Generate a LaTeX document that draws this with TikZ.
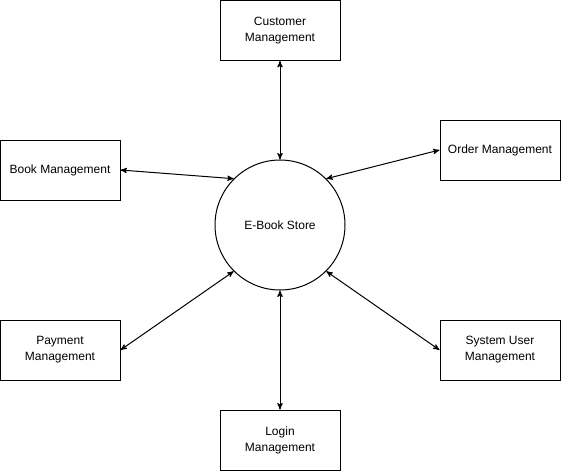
\documentclass[tikz,border=0pt]{standalone}
\usepackage{fontspec}
\setmainfont{Liberation Sans}
\usepackage{tikz}
\usetikzlibrary{positioning, arrows}
\tikzset{node distance=165pt, % Centre distance between the store and the side boxes
every node/.style={font=\fontsize{9pt}{12pt}\selectfont, align=center},
store/.style={ % The central process
circle, draw, line width=0.75pt, minimum size=97.5pt, inner sep=0pt},
module/.style={ % Each management box
rectangle, draw, line width=0.75pt, minimum width=90pt, minimum height=45pt, inner sep=2pt},
every edge/.style={ % Sets the properties for each flow
draw,<->,>=stealth', line width=0.75pt}}

\begin{document}
\begin{tikzpicture}[x=0.75pt, y=-0.75pt]
    \useasboundingbox (0,0) rectangle (562,472);

    \node[store] (store) at (280,225) {E-Book Store};
    \node[module, above of=store, yshift=-19.1pt] (customer) {Customer\\Management};
    \node[module, left of=store, yshift=41.25pt] (book) {Book Management};
    \node[module, right of=store, yshift=56.25pt] (order) {Order Management};
    \node[module, left of=store, yshift=-93.75pt] (payment) {Payment\\Management};
    \node[module, right of=store, yshift=-93.75pt] (sysuser) {System User\\Management};
    \node[module, below of=store, yshift=3.75pt] (login) {Login\\Management};

    \draw (store) edge (customer);
    \draw (store.135) edge (book.east);
    \draw (store.45) edge (order.west);
    \draw (store.225) edge (payment.east);
    \draw (store.315) edge (sysuser.west);
    \draw (store) edge (login);

\end{tikzpicture}
\end{document}
